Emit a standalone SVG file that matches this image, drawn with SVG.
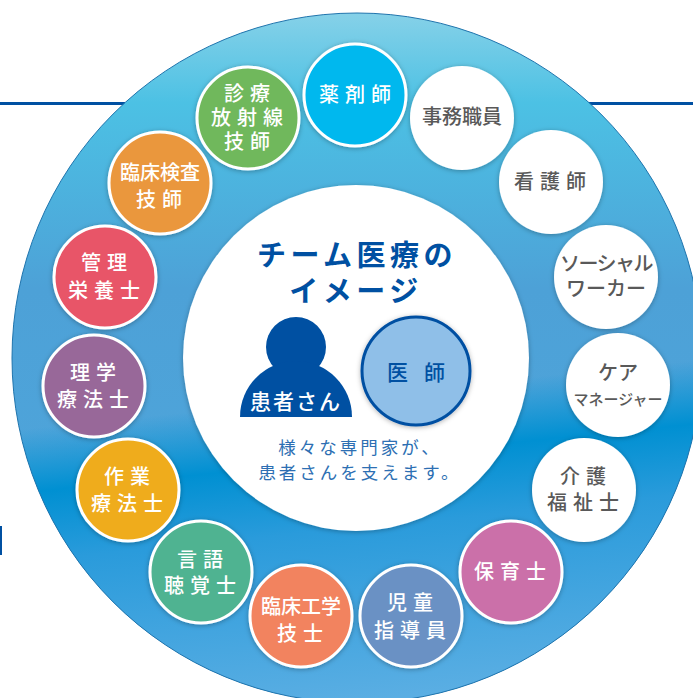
<svg xmlns="http://www.w3.org/2000/svg" width="693" height="698" viewBox="0 0 693 698">
<style>
text{font-family:"Noto Sans CJK JP","Noto Sans",sans-serif;text-anchor:middle}
.c{stroke:#fff;stroke-width:3;filter:url(#sh)}
.w{fill:#fff;stroke:none;filter:url(#sh)}
.l{font-size:20px;fill:#fff;letter-spacing:6px;font-weight:500}
.g{font-size:20px;fill:#595959;letter-spacing:6px;font-weight:500}
.t{letter-spacing:0}
.b{fill:#0050a2}
.title{font-size:29px;font-weight:700;fill:#0050a2;letter-spacing:4.5px}
.cap{font-size:17.5px;fill:#2d6fb3;letter-spacing:3px}
</style>
<defs>
<linearGradient id="ring" gradientUnits="userSpaceOnUse" x1="0" y1="13" x2="0" y2="703">
<stop offset="0" stop-color="#86d1e8"/>
<stop offset="0.13" stop-color="#4cc1e4"/>
<stop offset="0.4" stop-color="#4da1d7"/>
<stop offset="1" stop-color="#4fa8de"/>
</linearGradient>
<linearGradient id="band" gradientUnits="userSpaceOnUse" x1="326" y1="358" x2="361" y2="700">
<stop offset="0.116" stop-color="#0090d2" stop-opacity="0"/>
<stop offset="0.3" stop-color="#0090d2"/>
<stop offset="0.5" stop-color="#2a9bdb"/>
<stop offset="1" stop-color="#5aaee3"/>
</linearGradient>
<filter id="sh" x="-20%" y="-20%" width="140%" height="140%"><feDropShadow dx="0" dy="1" stdDeviation="2.5" flood-color="#000" flood-opacity="0.3"/></filter>
</defs>
<g id="rules">
<rect x="0" y="102" width="125" height="3" class="b"/>
<rect x="587" y="102" width="106" height="3" class="b"/>
<rect x="0" y="526" width="2" height="29" class="b"/>
</g>
<g id="ring-group">
<circle cx="357" cy="358" r="345" fill="url(#ring)"/>
<circle cx="357" cy="358" r="345" fill="url(#band)" stroke="#1f74ad" stroke-width="1"/>
</g>
<g id="center">
<circle cx="356" cy="358" r="173" class="w"/>
<text class="title" x="357" y="266">チーム医療の</text>
<text class="title" x="356" y="302">イメージ</text>
</g>
<g id="patient">
<circle cx="296" cy="347" r="30" class="b"/>
<path d="M240 417A56 56 0 0 1 352 417Z" class="b"/>
<text x="296" y="409" font-size="21" fill="#fff" letter-spacing="2" font-weight="500">患者さん</text>
</g>
<g id="doctor">
<circle cx="416" cy="371" r="54" fill="#8fbfe8" stroke="#0050a2" stroke-width="3" filter="url(#sh)"/>
<text x="424" y="380" font-size="21" fill="#0050a2" letter-spacing="16" font-weight="500">医師</text>
</g>
<g id="caption">
<text class="cap" x="360" y="454">様々な専門家が、</text>
<text class="cap" x="360" y="479">患者さんを支えます。</text>
</g>
<g id="yakuzaishi"><circle class="c" cx="355" cy="95" r="51" fill="#00b8ee"/><text class="l" x="358" y="102">薬剤師</text></g>
<g id="jimu"><circle class="w" cx="462" cy="118" r="52"/><text class="g t" x="462" y="124">事務職員</text></g>
<g id="kango"><circle class="w" cx="551" cy="182" r="52"/><text class="g" x="553" y="189">看護師</text></g>
<g id="social"><circle class="w" cx="606" cy="277" r="52"/><text class="g t" x="606" y="271" style="letter-spacing:-1.5px">ソーシャル</text><text class="g t" x="606" y="296">ワーカー</text></g>
<g id="care"><circle class="w" cx="618" cy="385" r="52"/><text class="g t" x="618" y="380">ケア</text><text class="g t" x="618" y="405" style="font-size:15px">マネージャー</text></g>
<g id="kaigo"><circle class="w" cx="584" cy="490" r="52"/><text class="g" x="586" y="484">介護</text><text class="g" x="586" y="510">福祉士</text></g>
<g id="hoiku"><circle class="c" cx="511" cy="572" r="51" fill="#cb70a9"/><text class="l" x="513" y="579">保育士</text></g>
<g id="jido"><circle class="c" cx="411" cy="616" r="51" fill="#6b91c4"/><text class="l" x="413" y="610">児童</text><text class="l" x="413" y="638">指導員</text></g>
<g id="kogaku"><circle class="c" cx="301" cy="616" r="51" fill="#f2835e"/><text class="l t" x="301" y="614">臨床工学</text><text class="l" x="303" y="641">技士</text></g>
<g id="gengo"><circle class="c" cx="201" cy="572" r="51" fill="#4fb391"/><text class="l" x="203" y="567">言語</text><text class="l" x="203" y="593">聴覚士</text></g>
<g id="sagyo"><circle class="c" cx="128" cy="490" r="51" fill="#efac1f"/><text class="l" x="130" y="484">作業</text><text class="l" x="130" y="511">療法士</text></g>
<g id="rigaku"><circle class="c" cx="94" cy="386" r="51" fill="#986899"/><text class="l" x="96" y="380">理学</text><text class="l" x="96" y="407">療法士</text></g>
<g id="kanri"><circle class="c" cx="105" cy="277" r="51" fill="#e85567"/><text class="l" x="107" y="270">管理</text><text class="l" x="107" y="298">栄養士</text></g>
<g id="kensa"><circle class="c" cx="160" cy="183" r="51" fill="#ea973e"/><text class="l t" x="160" y="180">臨床検査</text><text class="l" x="162" y="207">技師</text></g>
<g id="shinryo"><circle class="c" cx="248" cy="118" r="51" fill="#70b85c"/><text class="l" x="250" y="101">診療</text><text class="l" x="250" y="125">放射線</text><text class="l" x="250" y="149">技師</text></g>
</svg>
